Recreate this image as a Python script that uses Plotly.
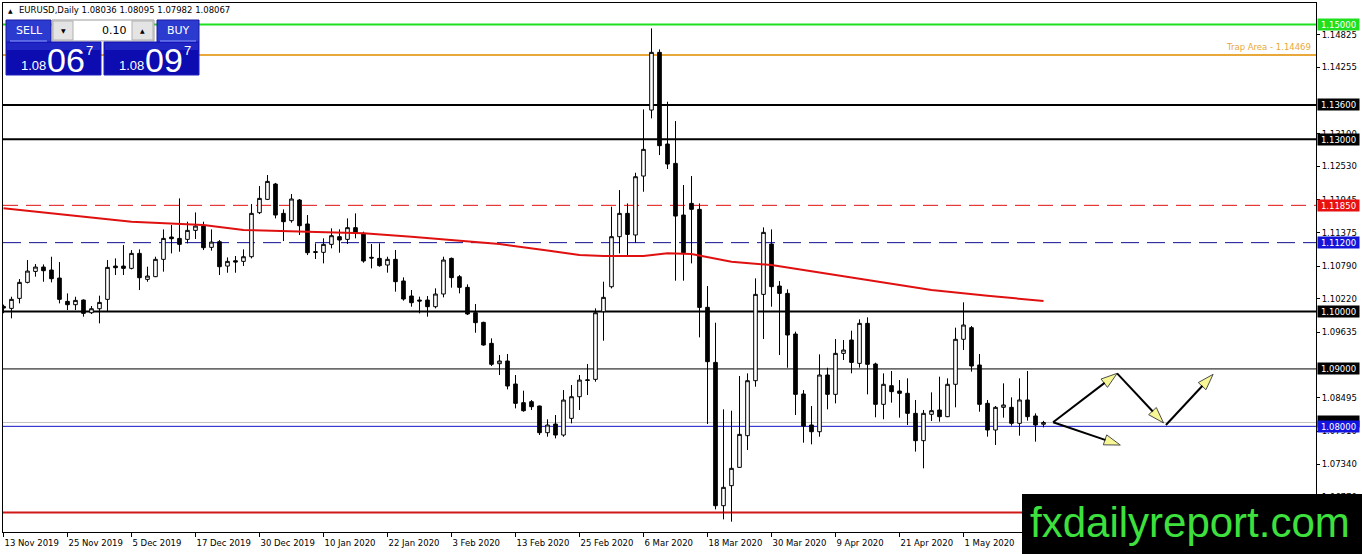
import plotly.graph_objects as go

# ---------------- data ----------------
bar_index = list(range(131))
opens = [1.1009, 1.10055, 1.10229, 1.10508, 1.10699, 1.10775, 1.10723, 1.10583, 1.10177, 1.10119,
         1.10200, 1.09979, 1.10049, 1.10212, 1.10792, 1.10792, 1.10752, 1.11013, 1.10560, 1.10607,
         1.10909, 1.11298, 1.11274, 1.11257, 1.11414, 1.11489, 1.11118, 1.11216, 1.10792, 1.10885,
         1.10874, 1.10955, 1.11722, 1.11954, 1.12221, 1.11710, 1.11583, 1.11943, 1.11525, 1.11043,
         1.11031, 1.11170, 1.11304, 1.11257, 1.11461, 1.11362, 1.10944, 1.10926, 1.10810, 1.10909,
         1.10532, 1.10270, 1.10200, 1.10200, 1.10084, 1.10305, 1.10926, 1.10607, 1.10421, 1.09980,
         1.09811, 1.09446, 1.09091, 1.09138, 1.08737, 1.08412, 1.08429, 1.08354, 1.07889, 1.08040,
         1.07848, 1.08139, 1.08516, 1.08810, 1.08818, 1.09997, 1.10432, 1.11304, 1.11710, 1.11333,
         1.12360, 1.13510, 1.14515, 1.12918, 1.12581, 1.11681, 1.11884, 1.11780, 1.10073, 1.09114,
         1.06617, 1.06966, 1.07285, 1.07837, 1.08795, 1.10299, 1.11176, 1.10444, 1.10316, 1.09608,
         1.08563, 1.08023, 1.07906, 1.08894, 1.08557, 1.09271, 1.09504, 1.09097, 1.09794, 1.09086,
         1.08383, 1.08708, 1.08615, 1.08575, 1.08226, 1.07750, 1.08209, 1.08284, 1.08168, 1.08732,
         1.09516, 1.09719, 1.09068, 1.08401, 1.07936, 1.08331, 1.08331, 1.08052, 1.08459, 1.08180,
         1.08036]
highs = [1.1012, 1.10258, 1.10566, 1.10897, 1.10827, 1.10821, 1.10955, 1.10862, 1.10316, 1.10258,
         1.10212, 1.10096, 1.10276, 1.10897, 1.10926, 1.11158, 1.11071, 1.11083, 1.10781, 1.10955,
         1.11431, 1.11507, 1.11971, 1.11565, 1.11727, 1.11565, 1.11431, 1.11245, 1.10943, 1.10967,
         1.11083, 1.11872, 1.12186, 1.12378, 1.12240, 1.11780, 1.12047, 1.11960, 1.11681, 1.11188,
         1.11275, 1.11449, 1.11432, 1.11623, 1.11710, 1.11391, 1.11176, 1.11188, 1.10955, 1.11072,
         1.10595, 1.10375, 1.10259, 1.10270, 1.10404, 1.10955, 1.10940, 1.10636, 1.10473, 1.10131,
         1.09823, 1.09533, 1.09242, 1.09260, 1.08894, 1.08621, 1.08458, 1.08360, 1.08122, 1.08197,
         1.08632, 1.08719, 1.08894, 1.09085, 1.10055, 1.10520, 1.11826, 1.12116, 1.11884, 1.12418,
         1.13522, 1.14933, 1.14567, 1.13655, 1.13318, 1.12204, 1.12360, 1.11884, 1.10444, 1.09805,
         1.08296, 1.08272, 1.08876, 1.08923, 1.10578, 1.11466, 1.11431, 1.10531, 1.10386, 1.09649,
         1.08632, 1.08354, 1.09254, 1.09021, 1.09521, 1.09504, 1.09666, 1.09864, 1.09899, 1.09109,
         1.08923, 1.08964, 1.08807, 1.08836, 1.08459, 1.08284, 1.08592, 1.08865, 1.08836, 1.09719,
         1.10160, 1.09748, 1.09260, 1.08459, 1.08354, 1.08749, 1.08505, 1.08836, 1.08964, 1.08226,
         1.08095]
lows = [1.0997, 1.09881, 1.10142, 1.10490, 1.10607, 1.10519, 1.10508, 1.10142, 1.10026, 1.10026,
        1.09910, 1.09956, 1.09794, 1.09997, 1.10636, 1.10636, 1.10734, 1.10374, 1.10519, 1.10600,
        1.10694, 1.11013, 1.11042, 1.11187, 1.11263, 1.11071, 1.11060, 1.10636, 1.10676, 1.10676,
        1.10792, 1.10926, 1.11698, 1.11942, 1.11623, 1.11228, 1.11548, 1.11333, 1.10984, 1.10915,
        1.10839, 1.11101, 1.11025, 1.11176, 1.11275, 1.10851, 1.10752, 1.10781, 1.10677, 1.10346,
        1.10189, 1.10084, 1.09968, 1.09910, 1.10055, 1.10247, 1.10415, 1.10317, 1.09939, 1.09631,
        1.09405, 1.09051, 1.08894, 1.08644, 1.08313, 1.08255, 1.08284, 1.07849, 1.07820, 1.07790,
        1.07819, 1.08052, 1.08284, 1.08545, 1.08777, 1.09492, 1.10403, 1.11013, 1.10955, 1.11199,
        1.12087, 1.13365, 1.12726, 1.12482, 1.10537, 1.10537, 1.10839, 1.09550, 1.08040, 1.06553,
        1.06379, 1.06339, 1.07280, 1.07587, 1.08690, 1.09521, 1.10084, 1.09242, 1.09021, 1.08197,
        1.07715, 1.07686, 1.07819, 1.08296, 1.08400, 1.09155, 1.08923, 1.09022, 1.08557, 1.08157,
        1.08122, 1.08412, 1.08151, 1.08023, 1.07559, 1.07268, 1.08093, 1.08081, 1.08160, 1.08331,
        1.09330, 1.08952, 1.08255, 1.07820, 1.07675, 1.08151, 1.08012, 1.07837, 1.08099, 1.07733,
        1.07982]
closes = [1.1006, 1.10212, 1.10508, 1.10705, 1.10775, 1.10711, 1.10572, 1.10212, 1.10119, 1.10194,
          1.09968, 1.10049, 1.10159, 1.10769, 1.10763, 1.10752, 1.11013, 1.10589, 1.10618, 1.10909,
          1.11274, 1.11269, 1.11170, 1.11414, 1.11489, 1.11112, 1.11210, 1.10781, 1.10874, 1.10862,
          1.10955, 1.11710, 1.11971, 1.12267, 1.11681, 1.11565, 1.11960, 1.11495, 1.11025, 1.11031,
          1.11170, 1.11321, 1.11246, 1.11461, 1.11362, 1.10880, 1.10932, 1.10799, 1.10909, 1.10520,
          1.10218, 1.10154, 1.10183, 1.10084, 1.10305, 1.10897, 1.10590, 1.10421, 1.09957, 1.09806,
          1.09417, 1.09080, 1.09138, 1.08702, 1.08400, 1.08272, 1.08342, 1.07889, 1.08023, 1.07848,
          1.08458, 1.08516, 1.08806, 1.08800, 1.09979, 1.10247, 1.11304, 1.11710, 1.11344, 1.12349,
          1.12825, 1.14515, 1.12889, 1.12569, 1.11663, 1.11025, 1.11780, 1.10072, 1.09126, 1.06617,
          1.06937, 1.07268, 1.07860, 1.08795, 1.10299, 1.11379, 1.10433, 1.10316, 1.09591, 1.08557,
          1.08005, 1.07906, 1.08894, 1.08557, 1.09271, 1.09329, 1.09114, 1.09794, 1.09080, 1.08383,
          1.08732, 1.08604, 1.08575, 1.08226, 1.07750, 1.08226, 1.08273, 1.08168, 1.08732, 1.09516,
          1.09765, 1.09051, 1.08383, 1.07936, 1.08331, 1.08372, 1.08052, 1.08459, 1.08168, 1.08023,
          1.08067]

# moving average (red line) read at sample bars
ma_index = [0, 5, 10, 16, 25, 30, 38, 45, 51, 55, 58, 62, 68, 72, 75, 80, 83, 86, 91, 96,
            100, 104, 107, 116, 123, 130]
ma_values = [1.11798, 1.11721, 1.11652, 1.11564, 1.11507, 1.11420, 1.11390, 1.11362, 1.11303,
             1.11258, 1.11233, 1.11176, 1.11063, 1.10984, 1.10967, 1.10967, 1.11014, 1.11002,
             1.10868, 1.10810, 1.10723, 1.10636, 1.10561, 1.10375, 1.10275, 1.10183]

date_tick_index = [0, 8, 16, 24, 32, 40, 48, 56, 64, 72, 80, 88, 96, 104, 112, 120]
date_tick_labels = ["13 Nov 2019", "25 Nov 2019", "5 Dec 2019", "17 Dec 2019", "30 Dec 2019",
                    "10 Jan 2020", "22 Jan 2020", "3 Feb 2020", "13 Feb 2020", "25 Feb 2020",
                    "6 Mar 2020", "18 Mar 2020", "30 Mar 2020", "9 Apr 2020", "21 Apr 2020",
                    "1 May 2020"]
# visible right-axis price ticks (the ones fully covered by level labels are left out)
price_ticks = [1.14825, 1.14255, 1.13100, 1.12530, 1.11945, 1.11375, 1.10790,
               1.10220, 1.09635, 1.08495, 1.07910, 1.07340, 1.06770]

# horizontal levels: price, colour, width, dash, label background
level_prices = [1.15000, 1.14469, 1.13600, 1.13000, 1.11850, 1.11200, 1.10000, 1.09000, 1.08000, 1.06500]
level_colors = ["#1fe01f", "#e8a83a", "#000000", "#000000", "#e01010", "#101090", "#000000", "#000000", "#1414c8", "#d01818"]
level_widths = [2, 2, 2, 2, 1, 1, 2, 1, 1, 2]
level_dashes = ["solid", "solid", "solid", "solid", "15px,8px", "18px,8px", "solid", "solid", "solid", "solid"]
level_labels = ["1.15000", None, "1.13600", "1.13000", "1.11850", "1.11200", "1.10000", "1.09000", "1.08000", None]
label_bg = ["#1fe01f", None, "#000000", "#000000", "#e81010", "#1414d8", "#000000", "#000000", "#1414e0", None]

bid_price = 1.08067
trap_label = "Trap Area - 1.14469"

# drawn arrows (bar index, price)
arrow_x0 = [131.2, 139.2, 145.3, 131.2]
arrow_y0 = [1.08070, 1.08923, 1.08023, 1.08070]
arrow_x1 = [139.2, 145.0, 151.2, 139.6]
arrow_y1 = [1.08923, 1.08060, 1.08906, 1.07674]

header_text = "EURUSD,Daily 1.08036 1.08095 1.07982 1.08067"
sell_big = ("1.08", "06", "7")
buy_big = ("1.08", "09", "7")
lot_text = "0.10"

# ---------------- layout geometry ----------------
W, H = 1362, 554
PL, PR, PT, PB = 3, 1316, 3, 532
Y0, Y1 = 1.06159, 1.15375
X0, X1 = -0.06, 164.06


def px(x):
    return (x - PL) / (PR - PL)


def py(y):
    return (PB - y) / (PB - PT)


FONT = "DejaVu Sans"

fig = go.Figure()

fig.add_trace(go.Candlestick(
    x=bar_index, open=opens, high=highs, low=lows, close=closes,
    increasing=dict(line=dict(color="#000000", width=1), fillcolor="#ffffff"),
    decreasing=dict(line=dict(color="#000000", width=1), fillcolor="#000000"),
    whiskerwidth=0, showlegend=False, hoverinfo="skip",
))

fig.add_trace(go.Scatter(
    x=ma_index, y=ma_values, mode="lines",
    line=dict(color="#e01010", width=2), showlegend=False, hoverinfo="skip",
))

shapes = []
annotations = []

# horizontal levels
for p, c, w, d in zip(level_prices, level_colors, level_widths, level_dashes):
    shapes.append(dict(type="line", xref="paper", yref="y", x0=0, x1=1, y0=p, y1=p,
                       line=dict(color=c, width=w, dash=d), layer="below"))
# bid line
shapes.append(dict(type="line", xref="paper", yref="y", x0=0, x1=1, y0=bid_price, y1=bid_price,
                   line=dict(color="#c0c0c0", width=1), layer="below"))

# arrows: black shafts with yellow filled heads
for xa, ya, xb, yb in zip(arrow_x0, arrow_y0, arrow_x1, arrow_y1):
    fig.add_trace(go.Scatter(
        x=[xa, xb], y=[ya, yb], mode="lines+markers",
        line=dict(color="#000000", width=2),
        marker=dict(symbol=["circle", "arrow"], size=[1, 17], angleref="previous",
                    color="#f4f46a", line=dict(color="#000000", width=1)),
        showlegend=False, hoverinfo="skip", cliponaxis=False,
    ))

# right axis colored price labels (bid label sits just behind the 1.08000 label)
annotations.append(dict(xref="paper", yref="y", x=1, y=bid_price, xanchor="left", yanchor="middle",
                        xshift=1, yshift=1, text=" ", showarrow=False, bgcolor="#000000",
                        font=dict(family=FONT, size=8.5, color="#ffffff"), borderpad=0, width=41, height=11))
for p, lab, bg in zip(level_prices, level_labels, label_bg):
    if lab is None:
        continue
    annotations.append(dict(xref="paper", yref="y", x=1, y=p, xanchor="left", yanchor="middle",
                            xshift=1, text=lab, showarrow=False, bgcolor=bg,
                            font=dict(family=FONT, size=8.5, color="#ffffff"),
                            borderpad=0, width=41, height=11))

# trap area text
annotations.append(dict(xref="paper", yref="y", x=px(1313), y=level_prices[1], xanchor="right",
                        yanchor="bottom", yshift=1, text=trap_label, showarrow=False,
                        font=dict(family=FONT, size=8.5, color="#e8a83a")))

# ---- top-left header and trading panel ----
annotations.append(dict(xref="paper", yref="paper", x=px(6), y=py(10), xanchor="left", yanchor="middle",
                        text="\u25b2", showarrow=False, font=dict(family=FONT, size=6, color="#000000")))
annotations.append(dict(xref="paper", yref="paper", x=px(17), y=py(10), xanchor="left", yanchor="middle",
                        text=header_text, showarrow=False,
                        font=dict(family=FONT, size=8.5, color="#000000")))

panel_shapes = [
    # sell / buy buttons
    dict(x0=6, x1=51, y0=20, y1=42, fill="#2b3bd0", line="#1a1aa0"),
    dict(x0=157, x1=199, y0=20, y1=42, fill="#2b3bd0", line="#1a1aa0"),
    # spin control
    dict(x0=52, x1=154, y0=20, y1=41, fill="#ffffff", line="#9a9a9a"),
    dict(x0=53, x1=73, y0=21, y1=40, fill="#e4e4e4", line="#b0b0b0"),
    dict(x0=132, x1=153, y0=21, y1=40, fill="#e4e4e4", line="#b0b0b0"),
    # big price boxes
    dict(x0=6, x1=101, y0=42, y1=75, fill="#0c0cb0", line="#2020c0"),
    dict(x0=104, x1=199, y0=42, y1=75, fill="#0c0cb0", line="#2020c0"),
]
for s in panel_shapes:
    shapes.append(dict(type="rect", xref="paper", yref="paper",
                       x0=px(s["x0"]), x1=px(s["x1"]), y0=py(s["y1"]), y1=py(s["y0"]),
                       fillcolor=s["fill"], line=dict(color=s["line"], width=1), layer="above"))
for x0, x1 in [(7, 100), (105, 198)]:
    shapes.append(dict(type="rect", xref="paper", yref="paper",
                       x0=px(x0), x1=px(x1), y0=py(50), y1=py(43),
                       fillcolor="#1f26c4", line=dict(width=0), layer="above"))
for x0, x1 in [(10, 47), (160, 196)]:
    shapes.append(dict(type="line", xref="paper", yref="paper",
                       x0=px(x0), x1=px(x1), y0=py(41), y1=py(41),
                       line=dict(color="#8c9cff", width=1), layer="above"))

panel_ann = [
    dict(x=px(29), y=py(30.5), text="SELL", font=dict(family=FONT, size=11, color="#ffffff"), xanchor="center"),
    dict(x=px(178), y=py(30.5), text="BUY", font=dict(family=FONT, size=11, color="#ffffff"), xanchor="center"),
    dict(x=px(129), y=py(30.5), text=lot_text, font=dict(family=FONT, size=11, color="#000000"), xanchor="right"),
    dict(x=px(63), y=py(30.5), text="\u25bc", font=dict(family=FONT, size=6, color="#000000"), xanchor="center"),
    dict(x=px(142.5), y=py(30), text="\u25b2", font=dict(family=FONT, size=6, color="#000000"), xanchor="center"),
]
for base_x, parts in [(0, sell_big), (98, buy_big)]:
    panel_ann += [
        dict(x=px(19 + base_x), y=py(65), text=parts[0], xanchor="left",
             font=dict(family="Liberation Sans", size=13, color="#ffffff")),
        dict(x=px(45 + base_x), y=py(60), text=parts[1], xanchor="left",
             font=dict(family="Liberation Sans", size=34, color="#ffffff")),
        dict(x=px(84 + base_x), y=py(51), text=parts[2], xanchor="left",
             font=dict(family="Liberation Sans", size=13, color="#ffffff")),
    ]
for a in panel_ann:
    a.update(xref="paper", yref="paper", showarrow=False, yanchor="middle")
annotations += panel_ann

# watermark
shapes.append(dict(type="rect", xref="paper", yref="paper",
                   x0=px(1022), x1=px(1362), y0=py(554), y1=py(494),
                   fillcolor="#000000", line=dict(width=0), layer="above"))
annotations.append(dict(xref="paper", yref="paper", x=px(1190), y=py(522), xanchor="center",
                        yanchor="middle", text="fxdailyreport.com", showarrow=False,
                        font=dict(family="Liberation Sans", size=42, color="#3ee03e")))

fig.update_layout(
    width=W, height=H, autosize=False,
    margin=dict(l=PL, r=W - PR, t=PT, b=H - PB, pad=0),
    paper_bgcolor="#ffffff", plot_bgcolor="#ffffff",
    shapes=shapes, annotations=annotations,
    showlegend=False, boxgap=0.35, hovermode=False,
    xaxis=dict(range=[X0, X1], rangeslider=dict(visible=False), showgrid=False, zeroline=False,
               tickmode="array", tickvals=date_tick_index, ticktext=date_tick_labels,
               ticks="outside", ticklen=4, tickcolor="#000000", ticklabelposition="outside right",
               ticklabelstandoff=3,
               tickfont=dict(family=FONT, size=8.5, color="#000000"),
               showline=True, linecolor="#000000", linewidth=1, mirror=True, fixedrange=True),
    yaxis=dict(range=[Y0, Y1], side="right", showgrid=False, zeroline=False,
               tickmode="array", tickvals=price_ticks, ticktext=[f"{v:.5f}" for v in price_ticks],
               ticks="outside", ticklen=3, tickcolor="#000000",
               tickfont=dict(family=FONT, size=8.5, color="#000000"),
               showline=True, linecolor="#000000", linewidth=1, mirror=True, fixedrange=True),
)

fig.write_html("out.html", config={"displayModeBar": False, "staticPlot": True},
               post_script="document.body.style.margin='0';document.body.style.overflow='hidden';")
